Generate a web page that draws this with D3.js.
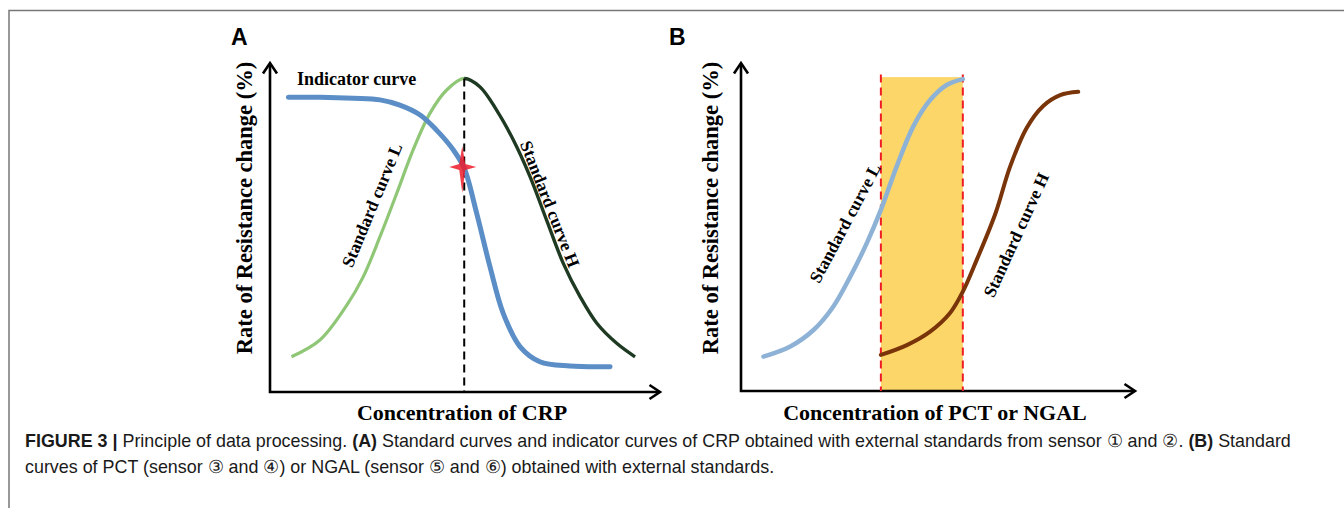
<!DOCTYPE html>
<html>
<head>
<meta charset="utf-8">
<script src="https://cdn.jsdelivr.net/npm/d3@7"></script>
<style>
  body { margin: 0; background: #fff; }
  svg { display: block; }
</style>
</head>
<body>
<div id="chart"></div>
<script>
// Panel A - CRP: standard curve L rises to the peak, standard curve H falls from it
const crpLX = [5.5, 12.8, 19.7, 23.9, 28.2, 32.5, 36.7, 41.0, 45.3, 49.8];
const crpLY = [10.7, 15.8, 26.4, 35.0, 47.2, 60.4, 73.6, 84.7, 91.8, 95.3];
const crpHX = [49.8, 53.8, 58.1, 62.4, 66.7, 70.9, 75.2, 79.5, 83.8, 88.9, 93.6];
const crpHY = [95.3, 92.8, 85.7, 76.6, 65.4, 52.3, 39.1, 29.0, 20.9, 14.8, 10.7];
// indicator curve
const indX = [4.7, 12.8, 21.4, 28.2, 33.3, 38.5, 42.7, 47.0, 49.8, 53.0, 56.4, 59.8, 64.1, 69.2, 76.9, 87.2];
const indY = [89.6, 89.6, 89.3, 88.8, 87.2, 84.2, 79.6, 73.6, 68.0, 54.3, 38.1, 23.9, 13.8, 9.2, 7.9, 7.7];
const crpCross = [49.3, 68.4];

// Panel B - PCT / NGAL
const pctLX = [5.7, 12.4, 18.4, 23.4, 27.7, 31.9, 35.5, 39.5, 43.7, 48.0, 52.2, 56.3];
const pctLY = [10.5, 13.5, 18.6, 25.7, 34.8, 45.0, 55.2, 68.4, 80.6, 88.7, 93.3, 95.1];
const pctHX = [35.5, 42.1, 48.0, 53.0, 56.3, 59.8, 64.6, 68.3, 72.5, 76.7, 81.0, 85.6];
const pctHY = [11.0, 14.0, 18.1, 23.7, 30.3, 39.9, 54.2, 68.4, 80.2, 86.9, 90.2, 91.2];
const pctRange = [35.5, 56.3];
const pctRangeTop = 95.7;

const width = 1344;
const height = 508;
const serif = '"Liberation Serif", "Times New Roman", serif';
const sans = '"Liberation Sans", Arial, Helvetica, sans-serif';

const svg = d3.select('#chart')
    .append('svg')
    .attr('width', width)
    .attr('height', height);

// frame at the top and left
svg.append('path')
    .attr('d', 'M9,508 V10.5 H1344')
    .attr('fill', 'none')
    .attr('stroke', '#777')
    .attr('stroke-width', 1.5);

const line = d3.line().curve(d3.curveCatmullRom.alpha(0.5));

// axes with open arrow heads, drawn from the scale extents
function drawAxes(g, x, y, xTitle, yTitle, yTitleX) {
    const x0 = x.range()[0], x1 = x.range()[1];
    const y0 = y.range()[0], y1 = y.range()[1];
    const ax = g.append('g')
        .attr('fill', 'none')
        .attr('stroke', '#000')
        .attr('stroke-width', 2.6);
    ax.append('path').attr('d', `M${x0},${y1 + 1} V${y0} H${x1 - 1}`);
    ax.append('path').attr('d', `M${x0 - 7},${y1 + 10.5} L${x0},${y1} L${x0 + 7},${y1 + 10.5}`);
    ax.append('path').attr('d', `M${x1 - 10.5},${y0 - 7} L${x1},${y0} L${x1 - 10.5},${y0 + 7}`);

    g.append('text')
        .attr('x', (x0 + x1) / 2 - 3)
        .attr('y', 420)
        .attr('text-anchor', 'middle')
        .attr('font-family', serif)
        .attr('font-weight', 'bold')
        .attr('font-size', 22)
        .text(xTitle);

    g.append('text')
        .attr('transform', `translate(${yTitleX},208) rotate(-90)`)
        .attr('text-anchor', 'middle')
        .attr('font-family', serif)
        .attr('font-weight', 'bold')
        .attr('font-size', 22.5)
        .text(yTitle);
}

function curveLabel(g, text, cx, cy, angle) {
    g.append('text')
        .attr('transform', `translate(${cx},${cy}) rotate(${angle})`)
        .attr('text-anchor', 'middle')
        .attr('dominant-baseline', 'central')
        .attr('font-family', serif)
        .attr('font-weight', 'bold')
        .attr('font-size', 17.5)
        .text(text);
}

function panelLetter(text, x) {
    svg.append('text')
        .attr('x', x)
        .attr('y', 45)
        .attr('font-family', sans)
        .attr('font-weight', 'bold')
        .attr('font-size', 23)
        .text(text);
}

// ---------- Panel A ----------
const xA = d3.scaleLinear().domain([0, 100]).range([270, 660]);
const yA = d3.scaleLinear().domain([0, 100]).range([392, 63]);
const gA = svg.append('g');

drawAxes(gA, xA, yA, 'Concentration of CRP', 'Rate of Resistance change (%)', 252);
panelLetter('A', 231);

// the two standard curves form one bell; split it at the peak with clip paths
const bell = d3.zip(crpLX.concat(crpHX.slice(1)), crpLY.concat(crpHY.slice(1)))
    .map(d => [xA(d[0]), yA(d[1])]);
const peakX = xA(crpLX[crpLX.length - 1]);
svg.append('clipPath').attr('id', 'clipL')
    .append('rect').attr('x', 0).attr('y', 0).attr('width', peakX).attr('height', height);
svg.append('clipPath').attr('id', 'clipH')
    .append('rect').attr('x', peakX).attr('y', 0).attr('width', width - peakX).attr('height', height);

gA.append('path')
    .attr('d', line(bell))
    .attr('clip-path', 'url(#clipL)')
    .attr('fill', 'none')
    .attr('stroke', '#8fc776')
    .attr('stroke-width', 3.2);
gA.append('path')
    .attr('d', line(bell))
    .attr('clip-path', 'url(#clipH)')
    .attr('fill', 'none')
    .attr('stroke', '#1f3a22')
    .attr('stroke-width', 3.4);

// dashed line through the peak
gA.append('line')
    .attr('x1', peakX).attr('x2', peakX)
    .attr('y1', yA(crpLY[crpLY.length - 1])).attr('y2', yA(0))
    .attr('stroke', '#000')
    .attr('stroke-width', 2)
    .attr('stroke-dasharray', '8,5');

gA.append('path')
    .attr('d', line(d3.zip(indX, indY).map(d => [xA(d[0]), yA(d[1])])))
    .attr('fill', 'none')
    .attr('stroke', '#5b8ec6')
    .attr('stroke-width', 5)
    .attr('stroke-linecap', 'round');

// red four point star where the indicator crosses the dashed line
const sx = xA(crpCross[0]), sy = yA(crpCross[1]);
gA.append('path')
    .attr('d', `M${sx},${sy - 21} L${sx + 3},${sy - 3} L${sx + 14},${sy} L${sx + 3},${sy + 3}` +
               ` L${sx},${sy + 26} L${sx - 3},${sy + 3} L${sx - 13},${sy} L${sx - 3},${sy - 3} Z`)
    .attr('fill', '#ec1c2a')
    .attr('fill-opacity', 0.85);

gA.append('text')
    .attr('x', 297)
    .attr('y', 85)
    .attr('font-family', serif)
    .attr('font-weight', 'bold')
    .attr('font-size', 18)
    .text('Indicator curve');

curveLabel(gA, 'Standard curve L', 372, 205, -67.6);
curveLabel(gA, 'Standard curve H', 550, 204, 68.5);

// ---------- Panel B ----------
const xB = d3.scaleLinear().domain([0, 100]).range([741, 1135]);
const yB = d3.scaleLinear().domain([0, 100]).range([391, 63]);
const gB = svg.append('g');

// working range band
gB.append('rect')
    .attr('x', xB(pctRange[0]))
    .attr('y', yB(pctRangeTop))
    .attr('width', xB(pctRange[1]) - xB(pctRange[0]))
    .attr('height', yB(0) - yB(pctRangeTop))
    .attr('fill', '#fdd669');

drawAxes(gB, xB, yB, 'Concentration of PCT or NGAL', 'Rate of Resistance change (%)', 718);
panelLetter('B', 669);

gB.selectAll('line.range')
    .data(pctRange)
    .enter()
    .append('line')
    .attr('x1', d => xB(d)).attr('x2', d => xB(d))
    .attr('y1', yB(96.5)).attr('y2', yB(0))
    .attr('stroke', '#ee1c25')
    .attr('stroke-width', 2)
    .attr('stroke-dasharray', '8,5');

gB.append('path')
    .attr('d', line(d3.zip(pctLX, pctLY).map(d => [xB(d[0]), yB(d[1])])))
    .attr('fill', 'none')
    .attr('stroke', '#8eb2d6')
    .attr('stroke-width', 4.5)
    .attr('stroke-linecap', 'round');

gB.append('path')
    .attr('d', line(d3.zip(pctHX, pctHY).map(d => [xB(d[0]), yB(d[1])])))
    .attr('fill', 'none')
    .attr('stroke', '#7a3409')
    .attr('stroke-width', 4)
    .attr('stroke-linecap', 'round');

curveLabel(gB, 'Standard curve L', 845, 223, -62);
curveLabel(gB, 'Standard curve H', 1016, 235, -65.5);

// ---------- Caption ----------
const caption = svg.append('text')
    .attr('font-family', sans)
    .attr('font-size', 17.9)
    .attr('fill', '#1a1a1a');

const line1 = caption.append('tspan').attr('x', 25).attr('y', 447);
line1.append('tspan').attr('font-weight', 'bold').text('FIGURE 3 | ');
line1.append('tspan').text('Principle of data processing. ');
line1.append('tspan').attr('font-weight', 'bold').text('(A)');
line1.append('tspan').text(' Standard curves and indicator curves of CRP obtained with external standards from sensor \u2460 and \u2461. ');
line1.append('tspan').attr('font-weight', 'bold').text('(B)');
line1.append('tspan').text(' Standard');

caption.append('tspan').attr('x', 25).attr('y', 473)
    .text('curves of PCT (sensor \u2462 and \u2463) or NGAL (sensor \u2464 and \u2465) obtained with external standards.');
</script>
</body>
</html>
